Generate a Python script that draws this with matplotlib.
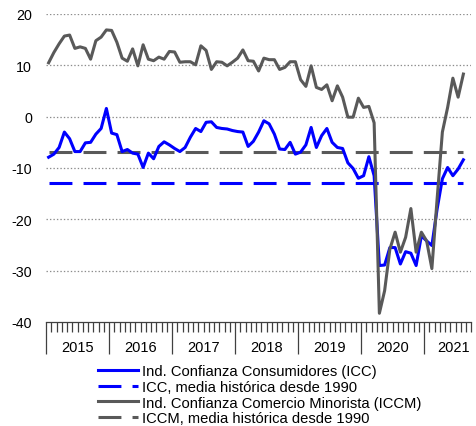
import numpy as np
import matplotlib
matplotlib.use('Agg')
import matplotlib.pyplot as plt
from matplotlib.lines import Line2D
from matplotlib.transforms import blended_transform_factory

plt.rcParams['font.family'] = ['Liberation Sans', 'DejaVu Sans']
plt.rcParams['lines.scale_dashes'] = False
plt.rcParams['axes.unicode_minus'] = False

# monthly data, Jan 2015 .. Aug 2021
years = [2015, 2016, 2017, 2018, 2019, 2020, 2021]
icc = [-7.9, -7.3, -6.0, -3.0, -4.3, -6.8, -6.8, -5.1, -5.0, -3.4, -2.3, 1.6,
       -3.2, -3.5, -6.8, -6.4, -7.1, -7.3, -9.9, -7.1, -8.2, -5.8, -4.9, -5.5,
       -6.2, -6.8, -6.0, -4.0, -2.3, -2.9, -1.1, -1.0, -2.1, -2.3, -2.4, -2.7,
       -2.9, -3.0, -5.8, -4.8, -3.0, -0.8, -1.4, -3.4, -6.3, -6.4, -5.0, -7.3,
       -6.9, -5.5, -2.1, -6.0, -3.7, -2.3, -5.0, -6.0, -6.2, -9.0, -10.1, -12.0,
       -11.5, -7.8, -11.5, -29.0, -28.9, -25.5, -25.5, -28.7, -26.3, -26.6, -29.0, -23.2,
       -24.2, -25.1, -18.0, -12.1, -9.9, -11.5, -10.2, -8.4]
iccm = [10.5, 12.5, 14.2, 15.7, 15.9, 13.3, 13.6, 13.3, 11.2, 14.8, 15.5, 16.9,
        16.8, 14.5, 11.4, 10.8, 13.2, 9.9, 14.0, 11.2, 10.9, 11.6, 11.2, 12.7,
        12.6, 10.6, 10.7, 10.7, 10.1, 13.8, 12.9, 9.2, 10.7, 10.6, 9.9, 10.6,
        11.4, 13.0, 10.9, 10.8, 8.9, 11.4, 11.1, 11.1, 9.2, 9.6, 10.7, 10.7,
        7.2, 5.9, 9.9, 5.7, 5.3, 6.2, 3.1, 6.0, 3.8, -0.1, -0.1, 3.6,
        1.8, 2.0, -1.2, -38.3, -33.9, -25.8, -22.5, -26.4, -23.5, -17.9, -26.4, -22.5,
        -24.2, -29.6, -16.0, -3.0, 1.8, 7.5, 3.8, 8.3]
icc_mean = -13.0
iccm_mean = -6.8
labels = ['Ind. Confianza Consumidores (ICC)',
          'ICC, media histórica desde 1990',
          'Ind. Confianza Comercio Minorista (ICCM)',
          'ICCM, media histórica desde 1990']

BLUE = '#0000ff'
GREY = '#595959'
DASH = (0, (16.5, 8))
n_axis = 81  # months shown on the axis

fig = plt.figure(figsize=(4.76, 4.27), dpi=100)
ax = fig.add_axes([46 / 476, 1 - 323 / 427, 425.25 / 476, 308 / 427])

x = np.arange(len(icc)) + 0.5
ax.plot(x, icc, color=BLUE, lw=2.2, zorder=3)
ax.plot([x[0], x[-1]], [icc_mean, icc_mean], color=BLUE, lw=2.2, ls=DASH, zorder=2)
ax.plot(x, iccm, color=GREY, lw=2.2, zorder=4)
ax.plot([x[0], x[-1]], [iccm_mean, iccm_mean], color=GREY, lw=2.2, ls=DASH, zorder=2)

ax.set_xlim(0, n_axis)
ax.set_ylim(-40, 20)
ax.set_yticks(np.arange(-40, 21, 10))
ax.tick_params(axis='y', length=0, pad=10, labelsize=10.3)
for v in range(-30, 21, 10):
    ax.axhline(v, color='#8c8c8c', lw=0.9, ls=(0, (1, 1.5)), zorder=1)

for s in ['left', 'right', 'top']:
    ax.spines[s].set_visible(False)
ax.spines['bottom'].set_color('#404040')
ax.spines['bottom'].set_linewidth(0.9)

major = np.arange(0, n_axis, 12)
minor = [m for m in range(1, n_axis + 1) if m % 12 != 0]
ax.set_xticks(major)
ax.set_xticklabels([])
ax.set_xticks(minor, minor=True)
ax.tick_params(axis='x', which='major', length=23, width=0.9, color='#404040')
ax.tick_params(axis='x', which='minor', length=7, width=0.9, color='#404040')

trans = blended_transform_factory(ax.transData, ax.transAxes)
for k, yr in enumerate(years):
    start = k * 12
    end = min(start + 12, n_axis)
    ax.text((start + end) / 2 + (1.2 if end - start < 12 else 0), -0.08, str(yr),
            transform=trans, ha='center', va='center', fontsize=10.5)

handles = [Line2D([], [], color=BLUE, lw=2.2),
           Line2D([], [], color=BLUE, lw=2.2, ls=DASH),
           Line2D([], [], color=GREY, lw=2.2),
           Line2D([], [], color=GREY, lw=2.2, ls=DASH)]
fig.legend(handles, labels, loc='upper left', bbox_to_anchor=(98 / 476, 1 - 365 / 427),
           frameon=False, fontsize=10.6, handlelength=2.72, handletextpad=0.27,
           labelspacing=0.12, borderpad=0, borderaxespad=0)

fig.savefig('out.png', dpi=100)
